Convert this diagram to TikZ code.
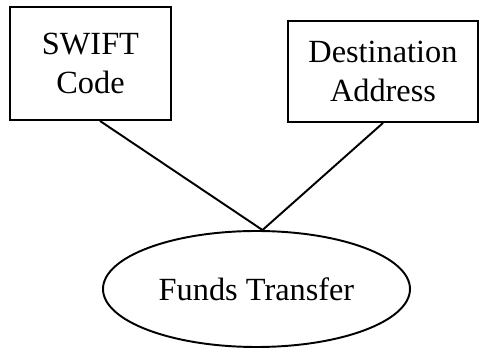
\documentclass[tikz,border=0pt]{standalone}
\usepackage{fontspec}
\setmainfont{Liberation Serif}
\usetikzlibrary{positioning, calc, shapes.geometric}

\begin{document}
\begin{tikzpicture}[line width=1.1pt, font=\fontsize{18.4}{22.6}\selectfont]
   \useasboundingbox (0,0) rectangle (9.86,6.98);
   % Boxes and the ellipse
   \node[draw, rectangle, minimum width=3.22cm, minimum height=2.26cm, align=center] (swift) at (1.81, 5.71) {SWIFT\\Code};
   \node[draw, rectangle, minimum width=3.8cm, minimum height=2.02cm, align=center] (dest) at (7.66, 5.55) {Destination\\Address};
   \node[draw, ellipse, minimum width=6.14cm, minimum height=2.32cm, inner sep=0pt] (fund) at (5.13, 1.2) {Funds Transfer};

   % Links
   \coordinate (meet) at ([xshift=0.12cm]fund.north);
   \draw ([xshift=0.19cm]swift.south) -- (meet);
   \draw (dest.south) -- (meet);
\end{tikzpicture}
\end{document}
